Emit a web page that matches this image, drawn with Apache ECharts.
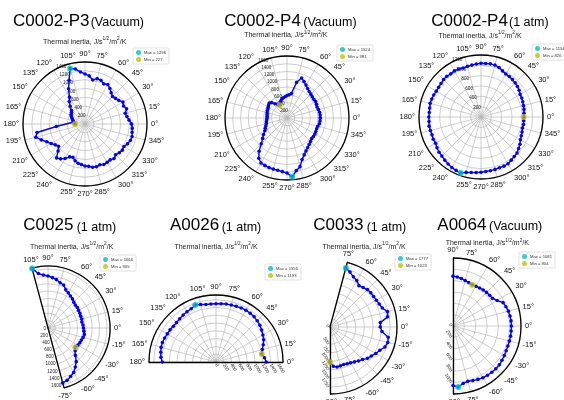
<!DOCTYPE html>
<html><head><meta charset="utf-8">
<script src="https://cdn.jsdelivr.net/npm/echarts@6.0.0/dist/echarts.min.js"></script>
<style>html,body{margin:0;padding:0;background:#fff;}#chart{width:564px;height:400px;}</style>
</head><body><div id="chart"></div>
<script>
// ---------------- DATA ----------------
const sampleNames = ['C0002-P3','C0002-P4','C0002-P4','C0025','A0026','C0033','A0064'];
const conditions = ['(Vacuum)','(Vacuum)','(1 atm)','(1 atm)','(1 atm)','(1 atm)','(Vacuum)'];

const angFull = [0,5,10,15,20,25,30,35,40,45,50,55,60,65,70,75,80,85,90,95,100,105,110,115,120,125,130,135,140,145,150,155,160,165,170,175,180,185,190,195,200,205,210,215,220,225,230,235,240,245,250,255,260,265,270,275,280,285,290,295,300,305,310,315,320,325,330,335,340,345,350,355];
const angC0025 = [-75,-70,-65,-60,-55,-50,-45,-40,-35,-30,-25,-20,-15,-10,-5,0,5,10,15,20,25,30,35,40,45,50,55,60,65,70,75,80,85,90,95,100,105];
const angA0026 = [0,5,10,15,20,25,30,35,40,45,50,55,60,65,70,75,80,85,90,95,100,105,110,115,120,125,130,135,140,145,150,155,160,165,170,175,180];
const angC0033 = [-90,-85,-80,-75,-70,-65,-60,-55,-50,-45,-40,-35,-30,-25,-20,-15,-10,-5,0,5,10,15,20,25,30,35,40,45,50,55,60,65,70,75];
const angA0064 = [-90,-85,-80,-75,-70,-65,-60,-55,-50,-45,-40,-35,-30,-25,-20,-15,-10,-5,0,5,10,15,20,25,30,35,40,45,50,55,60,65,70,75,80,85,90];

const tiC0002P3vac = [1050,1000,960,940,1000,960,990,930,900,880,920,980,1030,1000,1050,1060,1010,1090,1130,1180,1260,1296,1050,880,700,620,520,430,400,380,360,330,300,280,260,240,227,650,1100,1150,1050,950,880,820,780,860,1000,960,900,820,800,860,900,920,950,960,990,1000,980,1010,1000,990,1020,980,1010,1030,1015,1060,1090,1100,1080,1070];
const tiC0002P4vac = [860,858,855,840,825,840,850,845,850,870,890,930,980,1040,1100,950,640,600,580,550,530,510,470,420,381,430,480,560,600,580,560,545,540,530,520,515,515,525,540,550,580,620,660,740,820,940,1120,1270,1340,1350,1360,1365,1370,1390,1420,1524,1380,1300,1140,1050,980,930,890,860,830,830,830,820,815,820,850,855];
const tiC0002P4atm = [826,835,845,850,860,870,875,900,920,935,945,955,960,985,1020,1040,1045,1040,1040,1030,1020,1015,1010,1025,1030,1020,1030,1025,1010,1000,1000,1010,1015,1020,1010,1005,1010,1010,1020,1015,1010,1020,1015,1040,1060,1070,1090,1110,1130,1140,1154,1110,1090,1080,1070,1060,1055,1050,1045,1050,1045,1020,1000,985,950,920,880,860,845,830,835,830];
const tiC0025 = [1540,1510,1450,1390,1290,1190,1050,960,905,930,950,960,985,1000,975,960,950,930,945,940,950,955,970,965,990,1030,1060,1100,1140,1240,1270,1330,1370,1410,1440,1500,1666];
const tiA0026 = [1290,1250,1193,1230,1290,1350,1390,1430,1470,1495,1520,1530,1535,1530,1520,1515,1510,1500,1495,1495,1500,1530,1555,1510,1490,1470,1450,1435,1430,1440,1445,1455,1465,1460,1440,1420,1380];
const tiC0033 = [1023,1150,1180,1170,1160,1180,1200,1240,1290,1340,1420,1470,1540,1600,1700,1740,1720,1520,1460,1470,1700,1730,1620,1580,1560,1550,1550,1540,1500,1470,1560,1610,1700,1777];
const tiA0064 = [1050,1081,1030,1010,1025,1040,1055,1060,1065,1068,1066,1055,1045,1035,1030,1030,1032,1030,1030,1028,1022,1012,995,975,900,850,845,838,830,820,810,804,815,830,850,868,880];

// extrema: [angle, value]
const maxPts = [[105,1296],[275,1524],[250,1154],[105,1666],[110,1555],[75,1777],[-85,1081]];
const minPts = [[180,227],[120,381],[0,826],[-35,905],[10,1193],[-90,1023],[65,804]];

const angleSets = [angFull, angFull, angFull, angC0025, angA0026, angC0033, angA0064];
const valueSets = [tiC0002P3vac, tiC0002P4vac, tiC0002P4atm, tiC0025, tiA0026, tiC0033, tiA0064];
const radialMax = [1400,1600,1200,1680,1720,1950,1200];
const radialStep = [200,200,200,200,200,250,200];
const angleRange = [[0,360],[0,360],[0,360],[-75,105],[0,180],[-90,75],[-90,90]];

// ---------------- LAYOUT ----------------
const layouts = [
 {center:[85,124], r:62, labAng:112.5, t:[13,90.7,27.3], sub:[84.7,41], leg:[133,48]},
 {center:[287,118], r:62, labAng:112.5, t:[224.3,303.3,27.3], sub:[285.8,34.3], leg:[337,45]},
 {center:[481,117], r:62, labAng:112.5, t:[431.3,509,27.3], sub:[480,34.7], leg:[532,44]},
 {center:[48,328], r:62, lrot:0, lalign:'right', t:[23.3,76.7,231.7], sub:[71.7,246], leg:[100,255]},
 {center:[216,362], r:67, lrot:-60, lalign:'left', t:[170,221.7,231.7], sub:[216,245.7], leg:[265,264]},
 {center:[330,327], r:67, lrot:-60, lalign:'right', t:[313.3,366.7,231.7], sub:[364,245.7], leg:[395,254]},
 {center:[453,326], r:68, lrot:-60, lalign:'right', t:[437.3,489,231], sub:[487.3,242.3], leg:[519,252]}
];

const FONT = 'Liberation Sans';
const GRID = '#b8b8b8';
const plain = v => String(v);
const polar=[], angleAxis=[], radiusAxis=[], series=[], legend=[], graphic=[];

layouts.forEach((L,k)=>{
  const a0 = angleRange[k][0], a1 = angleRange[k][1];
  const full = (a1 - a0) === 360;
  const rmax = radialMax[k], step = radialStep[k];
  const pi = polar.length;
  polar.push({center:L.center, radius:L.r});
  const aa = {polarIndex:pi, type:'value', min:a0, max:a1, interval:15, startAngle:a0, clockwise:false,
    axisLine:{show:true, lineStyle:{color:'#000', width:1.3}},
    axisTick:{show:false},
    axisLabel:{show:true, margin:4, fontSize:7.5, fontFamily:FONT, color:'#111',
      formatter:v=> (full && v===360) ? '' : v+'°'},
    splitLine:{show:true, lineStyle:{color:GRID, width:0.7}}};
  if(!full) aa.endAngle = a1;
  angleAxis.push(aa);
  radiusAxis.push({polarIndex:pi, type:'value', min:0, max:rmax, interval:step,
    axisLine:{show:!full, lineStyle:{color:'#000', width:1.3}},
    axisTick:{show:false},
    axisLabel: full ? {show:false} : {show:true, fontSize:4.6, fontFamily:FONT, color:'#222', margin:-2,
       rotate:L.lrot, align:L.lalign, verticalAlign:'middle', showMinLabel:true, showMaxLabel:false, formatter:plain},
    splitLine:{show:true, lineStyle:{color:GRID, width:0.7}}});
  // overlay polar: radial labels (full) or second straight edge (sector)
  const oi = polar.length;
  polar.push({center:L.center, radius:L.r});
  angleAxis.push({polarIndex:oi, type:'value', min:0, max:360, startAngle: full ? L.labAng : a1, clockwise:false, show:false});
  radiusAxis.push({polarIndex:oi, type:'value', min:0, max:rmax, interval:step,
    axisLine:{show:!full, lineStyle:{color:'#000', width:1.3}},
    axisTick:{show:false}, splitLine:{show:false},
    axisLabel: full ? {show:true, fontSize:4.6, fontFamily:FONT, color:'#222', margin:0, rotate:0,
       align:'center', verticalAlign:'middle', showMinLabel:false, showMaxLabel:true, formatter:plain} : {show:false}});

  const angs = angleSets[k], vals = valueSets[k];
  const pts = angs.map((a,j)=>[vals[j], a]);
  if(full) pts.push([vals[0], 360]);
  series.push({type:'line', coordinateSystem:'polar', polarIndex:pi, data:pts, silent:true,
    symbol:'circle', symbolSize:3.6, showSymbol:true,
    itemStyle:{color:'#0000ff'}, lineStyle:{color:'#0000ff', width:1.4}, z:2, animation:false});
  const maxName = 'Max = ' + maxPts[k][1], minName = 'Min = ' + minPts[k][1];
  series.push({type:'scatter', name:maxName, coordinateSystem:'polar', polarIndex:pi,
    data:[[maxPts[k][1], maxPts[k][0]]], symbol:'circle', symbolSize:6, itemStyle:{color:'#00bfbf'}, z:4, animation:false});
  series.push({type:'scatter', name:minName, coordinateSystem:'polar', polarIndex:pi,
    data:[[minPts[k][1], minPts[k][0]]], symbol:'circle', symbolSize:6, itemStyle:{color:'#bfbf00'}, z:4, animation:false});
  legend.push({data:[maxName, minName], orient:'vertical', left:L.leg[0], top:L.leg[1], icon:'circle',
    itemWidth:5, itemHeight:5, itemGap:2, padding:[2,3], borderColor:'#cccccc', borderWidth:0.6, borderRadius:1,
    selectedMode:false, textStyle:{fontSize:4.2, fontFamily:FONT, color:'#333', padding:[0,0,0,-2]}});
  // titles
  graphic.push({type:'text', x:L.t[0], y:L.t[2] - 0.35*17, style:{text:sampleNames[k], fontSize:17, fontFamily:FONT, fill:'#000', align:'left', verticalAlign:'middle'}});
  graphic.push({type:'text', x:L.t[1], y:L.t[2] - 0.35*12.5, style:{text:conditions[k], fontSize:12.5, fontFamily:FONT, fill:'#000', align:'left', verticalAlign:'middle'}});
  graphic.push({type:'text', x:L.sub[0], y:L.sub[1], style:{
    text:'{b|Thermal inertia, J/s}{s|1/2}{b|/m}{s|2}{b|/K}', align:'center', verticalAlign:'middle',
    rich:{b:{fontSize:7, fontFamily:FONT, fill:'#222', lineHeight:9, verticalAlign:'bottom'},
          s:{fontSize:4.8, fontFamily:FONT, fill:'#222', lineHeight:6, verticalAlign:'top'}}}});
});

const chart = echarts.init(document.getElementById('chart'), null, {renderer:'canvas'});
chart.setOption({animation:false, backgroundColor:'#fff', polar, angleAxis, radiusAxis, series, legend, graphic});
</script></body></html>
